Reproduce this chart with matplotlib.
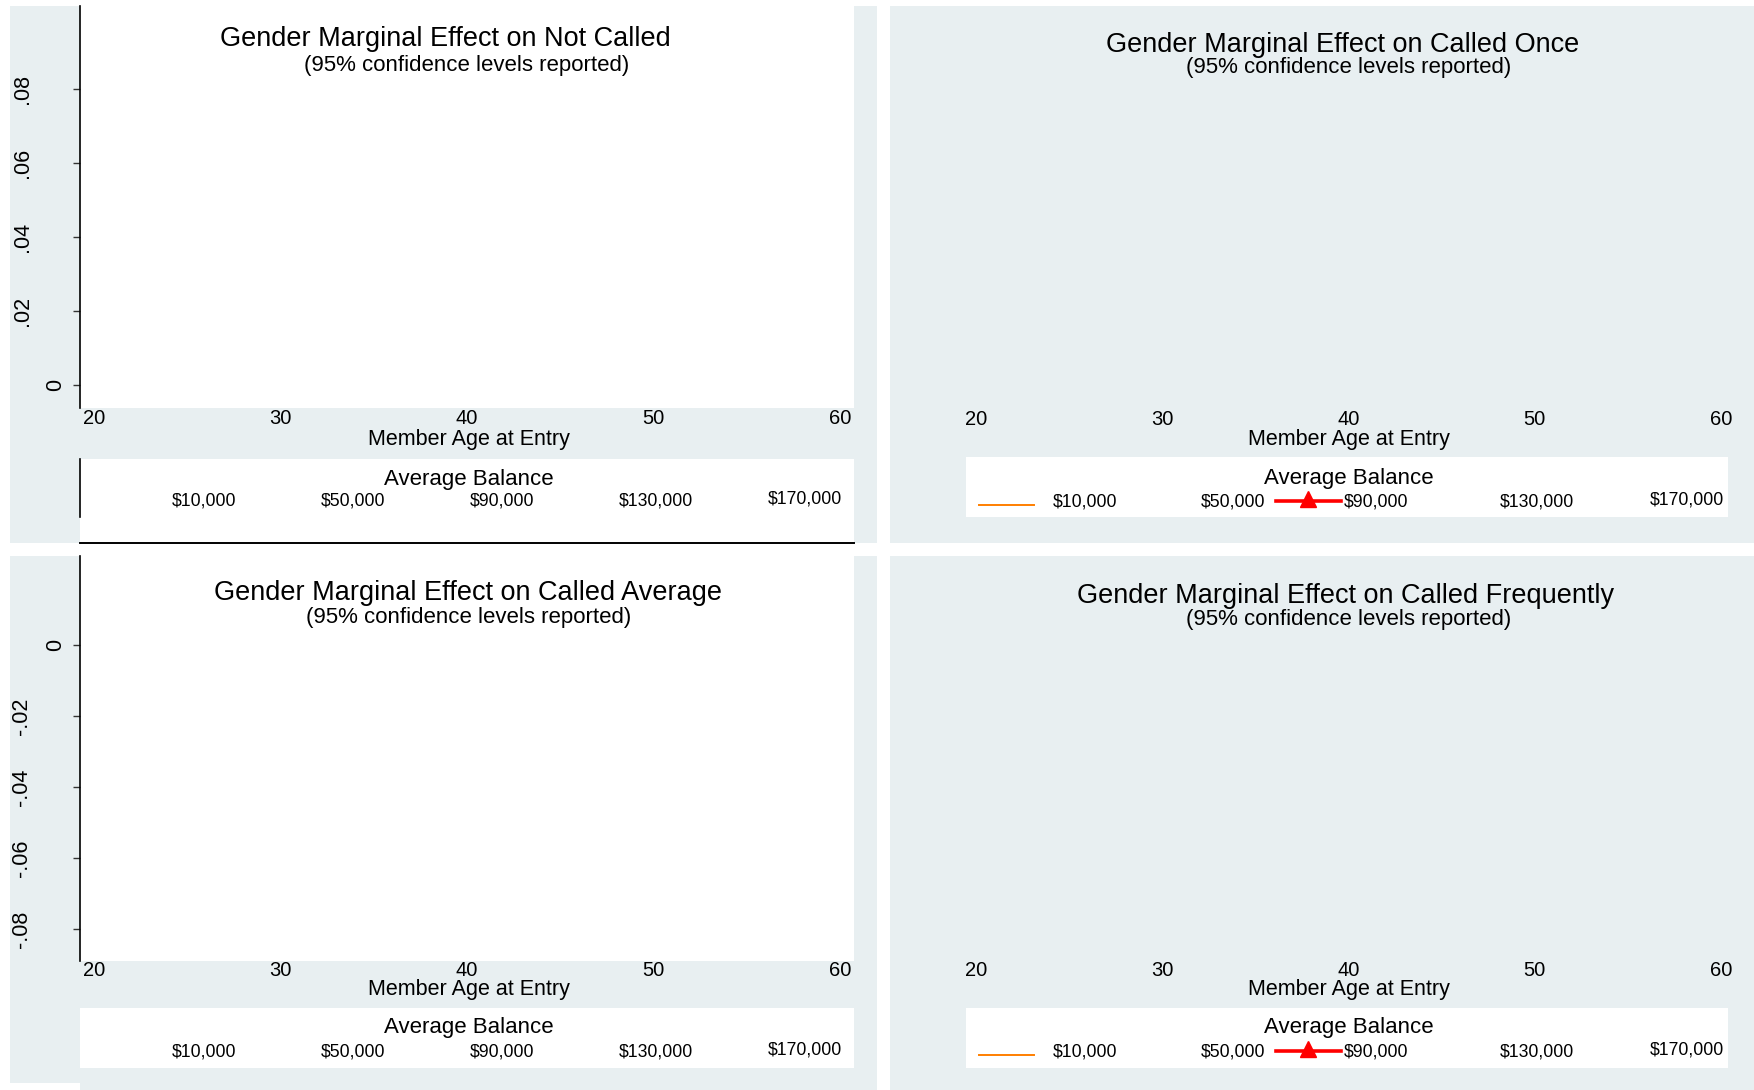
import matplotlib
matplotlib.use('Agg')
from matplotlib import pyplot as plt
from matplotlib.lines import Line2D
from matplotlib.patches import Rectangle

plt.rcParams['font.family'] = ['Liberation Sans', 'DejaVu Sans']

W, H = 1754, 1090

# chart content
ages = [20, 30, 40, 50, 60]
balance_labels = ['$10,000', '$50,000', '$90,000', '$130,000', '$170,000']
titles = ['Gender Marginal Effect on Not Called',
          'Gender Marginal Effect on Called Once',
          'Gender Marginal Effect on Called Average',
          'Gender Marginal Effect on Called Frequently']
subtitle = '(95% confidence levels reported)'
xlabel = 'Member Age at Entry'
legend_title = 'Average Balance'
yticks_not_called = [0, 0.02, 0.04, 0.06, 0.08]
ylabels_not_called = ['0', '.02', '.04', '.06', '.08']
yticks_called_avg = [0, -0.02, -0.04, -0.06, -0.08]
ylabels_called_avg = ['0', '-.02', '-.04', '-.06', '-.08']

GREY = '#E8EFF1'


def rect(x0, y0, x1, y1):
    return [x0 / W, 1 - y1 / H, (x1 - x0) / W, (y1 - y0) / H]


def fxy(x, y):
    return x / W, 1 - y / H


fig = plt.figure(figsize=(W / 100, H / 100), dpi=100)
fig.patch.set_facecolor('white')

# layout of the four panels, in pixels from the top-left corner
panels = [
    dict(bg=(10, 6, 877, 543), plot=(80, 6, 854, 408), face='white',
         yticks=yticks_not_called, ylabels=ylabels_not_called,
         ylim=(-0.0062, 0.1024), xlim=(19.25, 60.75),
         title=(445, 39), sub=(467, 66), xl=(469, 439), xpad=1.0,
         leg=(80, 459, 854, 543), leg_t=479, leg_y=501,
         leg_x=[204, 353, 502, 656, 805], keys=False, frame=True),
    dict(bg=(890, 6, 1754, 543), plot=(966, 6, 1728, 408), face=GREY,
         yticks=None, ylabels=None, ylim=None, xlim=(19.44, 60.38),
         title=(1343, 45), sub=(1349, 68), xl=(1349, 439), xpad=1.5,
         leg=(966, 457, 1728, 517), leg_t=478, leg_y=502,
         leg_x=[1085, 1233, 1376, 1537, 1687], keys=True, frame=False),
    dict(bg=(10, 556, 877, 1090), plot=(80, 556, 854, 961), face='white',
         yticks=yticks_called_avg, ylabels=ylabels_called_avg,
         ylim=(-0.089, 0.0251), xlim=(19.25, 60.75),
         title=(468, 593), sub=(469, 617), xl=(469, 990), xpad=0.0,
         leg=(80, 1008, 854, 1068), leg_t=1027, leg_y=1052,
         leg_x=[204, 353, 502, 656, 805], keys=False, frame=False),
    dict(bg=(890, 556, 1754, 1090), plot=(966, 556, 1728, 961), face=GREY,
         yticks=None, ylabels=None, ylim=None, xlim=(19.44, 60.38),
         title=(1346, 596), sub=(1349, 619), xl=(1349, 990), xpad=0.0,
         leg=(966, 1008, 1728, 1068), leg_t=1027, leg_y=1052,
         leg_x=[1085, 1233, 1376, 1537, 1687], keys=True, frame=False),
]

for i, p in enumerate(panels):
    x0, y0, x1, y1 = p['bg']
    fig.add_artist(Rectangle(fxy(x0, y1), (x1 - x0) / W, (y1 - y0) / H,
                             transform=fig.transFigure, facecolor=GREY,
                             edgecolor='none', zorder=-10))

    ax = fig.add_axes(rect(*p['plot']))
    ax.set_facecolor(p['face'])
    ax.set_xlim(*p['xlim'])
    for side in ['top', 'right', 'bottom']:
        ax.spines[side].set_visible(False)
    ax.set_xticks(ages)
    ax.set_xticklabels([str(a) for a in ages], fontsize=14.5)
    ax.tick_params(axis='x', length=0, pad=p['xpad'])

    if p['yticks'] is None:
        ax.spines['left'].set_visible(False)
        ax.set_yticks([])
    else:
        ax.spines['left'].set_color('black')
        ax.spines['left'].set_linewidth(1.2)
        ax.set_ylim(*p['ylim'])
        ax.set_yticks(p['yticks'])
        ax.set_yticklabels([])
        ax.tick_params(axis='y', direction='out', length=5, width=1,
                       color='#333333')
        for val, lab in zip(p['yticks'], p['ylabels']):
            off = -24 if lab == '0' else -58
            ax.annotate(lab, xy=(0, val), xycoords=ax.get_yaxis_transform(),
                        xytext=(off, 0), textcoords='offset pixels',
                        rotation=90, ha='center', va='center', fontsize=15.5)

    fig.text(*fxy(*p['title']), titles[i], ha='center', va='center',
             fontsize=19.5)
    fig.text(*fxy(*p['sub']), subtitle, ha='center', va='center',
             fontsize=16)
    fig.text(*fxy(*p['xl']), xlabel, ha='center', va='center', fontsize=15.5)

    # legend box
    lx0, ly0, lx1, ly1 = p['leg']
    fig.add_artist(Rectangle(fxy(lx0, ly1), (lx1 - lx0) / W, (ly1 - ly0) / H,
                             transform=fig.transFigure, facecolor='white',
                             edgecolor='none', zorder=-5))
    fig.text(*fxy((lx0 + lx1) / 2 + 2, p['leg_t']), legend_title,
             ha='center', va='center', fontsize=16)
    for j, lab in enumerate(balance_labels):
        dy = -2 if j == 4 else 0
        fig.text(*fxy(p['leg_x'][j], p['leg_y'] + dy), lab, ha='center',
                 va='center', fontsize=12.7)
    if p['keys']:
        ky = p['leg_y']
        fig.add_artist(Line2D([979 / W, 1034 / W], [fxy(0, ky + 3)[1]] * 2,
                              transform=fig.transFigure, color='#FF7F00',
                              lw=1.4))
        fig.add_artist(Line2D([1276 / W, 1341 / W], [fxy(0, ky - 1)[1]] * 2,
                              transform=fig.transFigure, color='red', lw=2.6))
        fig.add_artist(Line2D([1308 / W], [fxy(0, ky - 3)[1]],
                              transform=fig.transFigure, color='red',
                              marker='^', markersize=11, lw=0))
    if p['frame']:
        fig.add_artist(Line2D([lx0 / W, lx1 / W], [fxy(0, ly1)[1]] * 2,
                              transform=fig.transFigure, color='black',
                              lw=1.4))
        fig.add_artist(Line2D([lx0 / W, lx0 / W],
                              [fxy(0, ly0)[1], fxy(0, 517)[1]],
                              transform=fig.transFigure, color='black',
                              lw=1.2))

# white notch at the very bottom left
fig.add_artist(Rectangle(fxy(0, 1090), 80 / W, 7 / H,
                         transform=fig.transFigure, facecolor='white',
                         edgecolor='none', zorder=-4))

plt.savefig('out.png', dpi=100)
